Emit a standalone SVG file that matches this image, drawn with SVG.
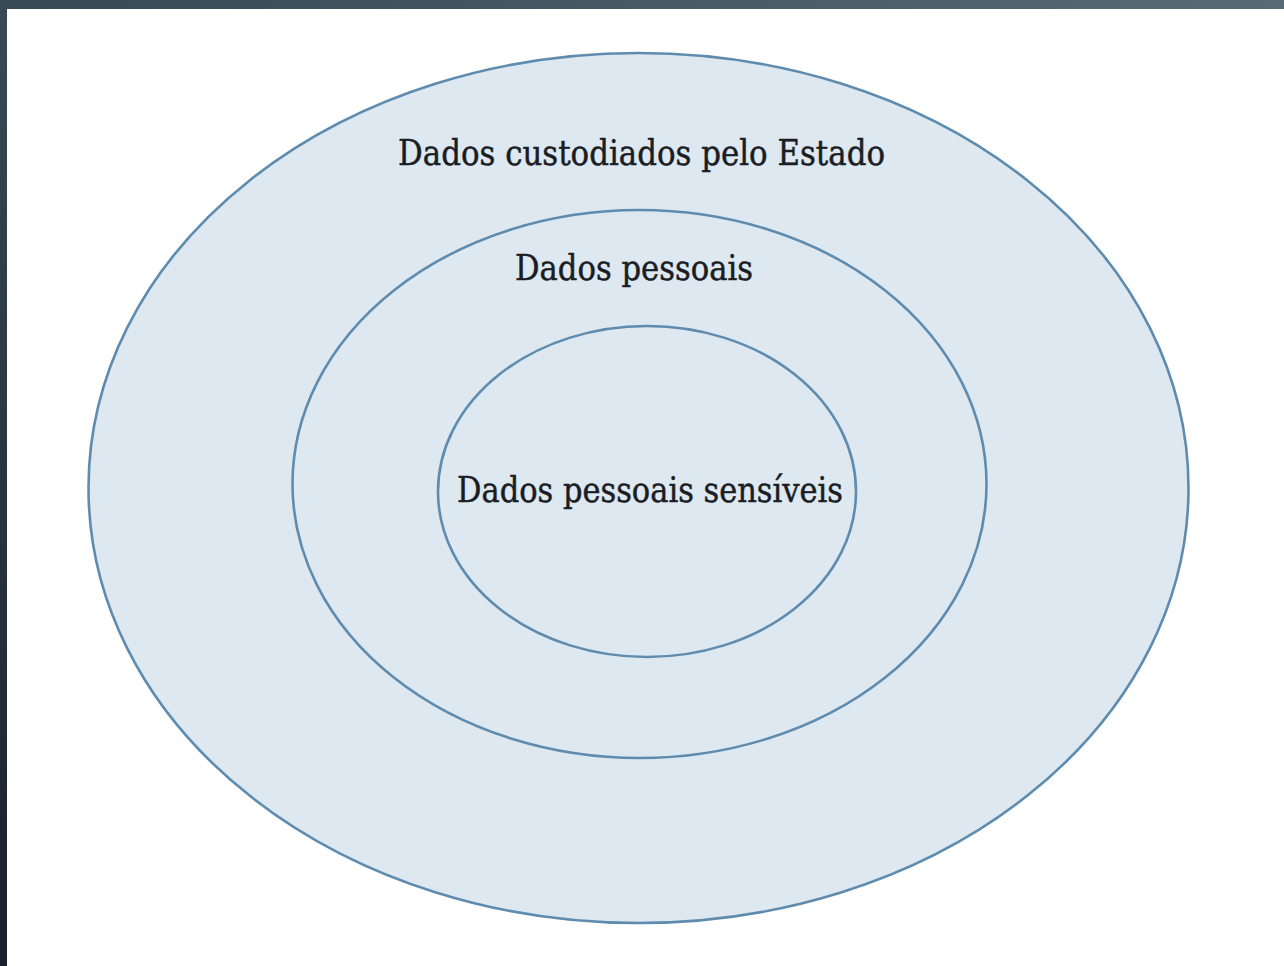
<svg xmlns="http://www.w3.org/2000/svg" width="1284" height="966" viewBox="0 0 1284 966">
  <defs>
    <linearGradient id="frameTop" x1="0" y1="0" x2="1" y2="0">
      <stop offset="0" stop-color="#354953"/>
      <stop offset="1" stop-color="#576b77"/>
    </linearGradient>
    <linearGradient id="frameLeft" x1="0" y1="0" x2="0" y2="1">
      <stop offset="0" stop-color="#374a55"/>
      <stop offset="1" stop-color="#19202a"/>
    </linearGradient>
  </defs>
  <style>
    .ring { fill: #dee8f0; stroke: #5f8cae; stroke-width: 2.6; }
    .label { font-family: "DejaVu Serif", "Liberation Serif", serif; font-size: 36px; fill: #1a1d24; stroke: #1a1d24; stroke-width: 0.5; }
  </style>
  <rect x="0" y="0" width="1284" height="966" fill="#ffffff"/>
  <rect x="0" y="0" width="1284" height="9" fill="url(#frameTop)"/>
  <rect x="0" y="0" width="7" height="966" fill="url(#frameLeft)"/>
  <g id="outer">
    <ellipse class="ring" cx="638.5" cy="488" rx="550" ry="435"/>
    <text class="label" x="398" y="165" textLength="487" lengthAdjust="spacingAndGlyphs">Dados custodiados pelo Estado</text>
  </g>
  <g id="middle">
    <ellipse class="ring" cx="639.5" cy="484" rx="347" ry="274"/>
    <text class="label" x="515" y="280" textLength="238" lengthAdjust="spacingAndGlyphs">Dados pessoais</text>
  </g>
  <g id="inner">
    <ellipse class="ring" cx="647" cy="491.5" rx="209" ry="165.5"/>
    <text class="label" x="457" y="502" textLength="386" lengthAdjust="spacingAndGlyphs">Dados pessoais sensíveis</text>
  </g>
  <g id="connectors"/>
</svg>
